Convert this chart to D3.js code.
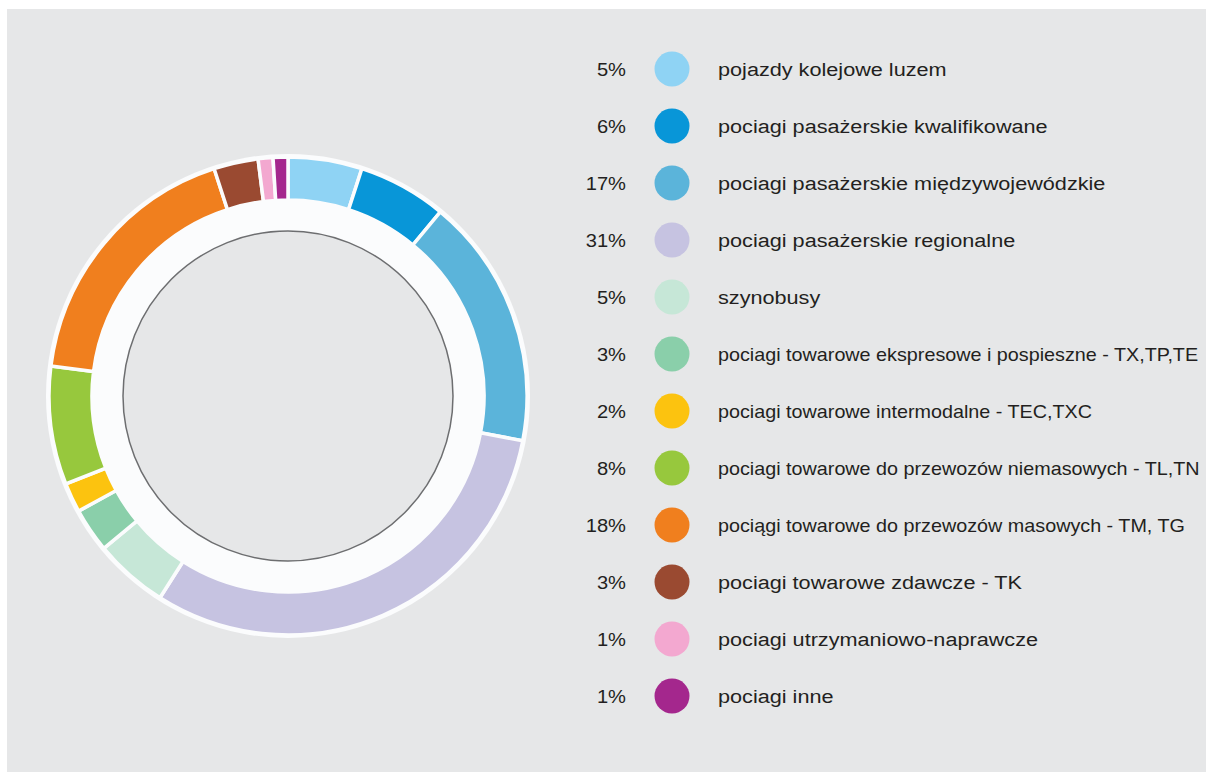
<!DOCTYPE html>
<html>
<head>
<meta charset="utf-8">
<script src="https://cdn.jsdelivr.net/npm/d3@7"></script>
<style>
  html, body { margin: 0; padding: 0; background: #fff; }
  svg { display: block; }
</style>
</head>
<body>
<svg id="chart" width="1206" height="772"></svg>
<script>
const labels = [
  'pojazdy kolejowe luzem',
  'pociagi pasażerskie kwalifikowane',
  'pociagi pasażerskie międzywojewódzkie',
  'pociagi pasażerskie regionalne',
  'szynobusy',
  'pociagi towarowe ekspresowe i pospieszne - TX,TP,TE',
  'pociagi towarowe intermodalne - TEC,TXC',
  'pociagi towarowe do przewozów niemasowych - TL,TN',
  'pociągi towarowe do przewozów masowych - TM, TG',
  'pociagi towarowe zdawcze - TK',
  'pociagi utrzymaniowo-naprawcze',
  'pociagi inne'
]
const shares = [5, 6, 17, 31, 5, 3, 2, 8, 18, 3, 1, 1]
const colors = ['#8fd3f4', '#0896d8', '#5bb4da', '#c6c3e1', '#c6e7d7', '#8acfaa',
                '#fcc30f', '#97c83d', '#f07f1e', '#9a4a31', '#f3a8d0', '#a4278d']

// the long freight labels are set tighter in the original
const condensedRows = [5, 6, 7, 8]

const svg = d3.select('#chart')
const size = { width: 1206, height: 772 }
const font = 'Liberation Sans, Arial, sans-serif'

// gray panel
svg.append('rect')
    .attr('x', 7).attr('y', 9)
    .attr('width', size.width - 7).attr('height', size.height - 9)
    .attr('fill', '#e6e7e8')

// donut
const center = { x: 288, y: 396 }
const g = svg.append('g').attr('transform', `translate(${center.x},${center.y})`)

g.append('circle').attr('r', 242).attr('fill', '#fbfcfd')

const pie = d3.pie().sort(null).value(d => d)
const arc = d3.arc().innerRadius(196).outerRadius(239)

g.selectAll('path.slice')
    .data(pie(shares))
    .join('path')
    .attr('class', 'slice')
    .attr('d', arc)
    .attr('fill', (d, i) => colors[i])
    .attr('stroke', '#fbfcfd')
    .attr('stroke-width', 3.5)

g.append('circle')
    .attr('r', 165)
    .attr('fill', '#e6e7e8')
    .attr('stroke', '#6d6e70')
    .attr('stroke-width', 1.5)

// legend
const y = d3.scalePoint().domain(d3.range(labels.length)).range([69, 696])
const rows = svg.append('g').selectAll('g')
    .data(labels)
    .join('g')
    .attr('transform', (d, i) => `translate(0,${y(i)})`)

rows.append('text')
    .attr('transform', 'translate(626,0) scale(1.06,1)')
    .attr('dy', '0.35em')
    .attr('text-anchor', 'end')
    .attr('font-family', font)
    .attr('font-size', 19)
    .attr('fill', '#231f20')
    .text((d, i) => shares[i] + '%')

rows.append('circle')
    .attr('cx', 672)
    .attr('r', 17.5)
    .attr('fill', (d, i) => colors[i])

rows.append('text')
    .attr('transform', (d, i) => `translate(718,0) scale(${condensedRows.includes(i) ? 1.04 : 1.14},1)`)
    .attr('dy', '0.35em')
    .attr('font-family', font)
    .attr('font-size', 19)
    .attr('fill', '#231f20')
    .text(d => d)
</script>
</body>
</html>
